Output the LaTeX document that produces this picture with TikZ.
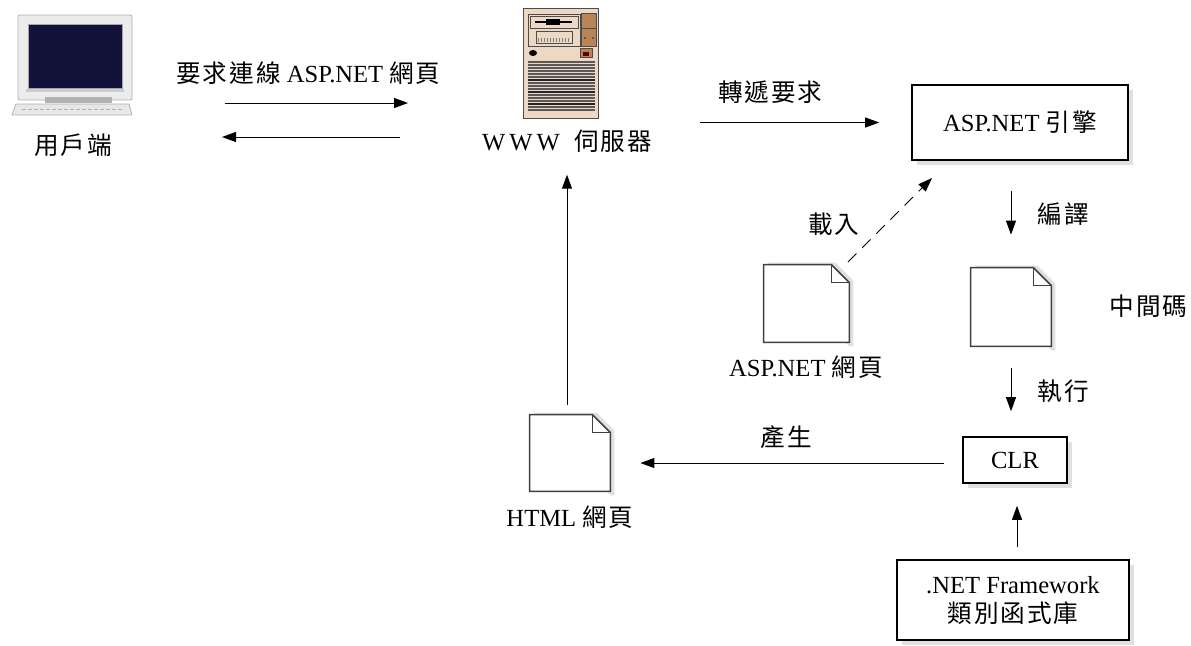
\documentclass[tikz,border=0pt]{standalone}
\usepackage{fontspec}
\setmainfont{Liberation Serif}
\newfontfamily\cjk[LetterSpace=8]{Noto Sans CJK TC}
\usetikzlibrary{arrows.meta,positioning,shadows}

\definecolor{screenblue}{RGB}{18,18,58}
\definecolor{casetan}{RGB}{236,216,196}
\definecolor{casebrown}{RGB}{184,132,88}

\begin{document}
\begin{tikzpicture}[
  x=0.5pt, y=-0.5pt,
  font=\fontsize{12.3}{14.5}\selectfont,
  box/.style={rectangle, draw=black, line width=0.8pt, fill=white, align=center,
              drop shadow={shadow xshift=2.5pt, shadow yshift=-2.5pt, fill=black!12, opacity=1}},
  doc/.style={rectangle, inner sep=0pt},
  icon/.style={rectangle, inner sep=0pt},
  lbl/.style={inner sep=1pt, align=center},
  arr/.style={-{Triangle[length=7pt,width=5pt]}, line width=0.5pt}
]
\useasboundingbox (0,0) rectangle (1191,645);

% client computer
\node[icon, minimum width=62pt, minimum height=52pt] (client) at (72,65) {};
\draw[gray!60, fill=gray!15, rounded corners=1pt] (18,15) rectangle (132,100);
\draw[gray!70, fill=screenblue] (28,24) rectangle (122,88);
\fill[gray!40] (26,89) rectangle (124,92);
\fill[gray!60] (45,97) rectangle (112,103);
\draw[gray!60, fill=gray!18] (16,104) -- (129,104) -- (132,115) -- (12,115) -- cycle;
\draw[gray!60, dash pattern=on 2pt off 1pt] (22,109) -- (124,109);
\node[lbl] (clientlbl) at (73,145) {\cjk 用戶端};

% web server
\node[icon, minimum width=37.5pt, minimum height=55pt] (srv) at (560.5,63) {};
\draw[black!70, fill=casetan] (523,8) rectangle (598,118);
\draw[black!70] (528,14) rectangle (580,46);
\draw[black!70] (530,16) rectangle (578,28);
\draw[black, line width=1pt] (535,22) -- (572,22);
\fill[black] (546,19) rectangle (560,25);
\draw[black!70] (536,31) rectangle (572,43);
\foreach \k in {538,541,...,570} \draw[black!50] (\k,38) -- (\k,42);
\draw[black!70, fill=casebrown] (581,13) rectangle (596,28);
\draw[black!70, fill=casebrown] (581,28) rectangle (596,46);
\fill[black!70] (585,38) circle (1.2) (593,38) circle (1.2);
\draw[black!70, fill=casebrown] (580,48) rectangle (592,57);
\fill[black!60!red] (583,52) rectangle (589,56);
\fill[black] (533,53) ellipse (4 and 3);
\foreach \k in {62,65,...,112} \draw[black!65, line width=0.7pt] (528,\k) -- (595,\k);
\foreach \k in {80,92,104} \draw[black!85, line width=0.9pt] (528,\k) -- (595,\k);
\node[lbl] (srvlbl) at (567,141) {W\,W\,W\,\, {\cjk 伺服器}};

% boxes
\node[box, minimum width=108pt, minimum height=37.5pt] (engine) at (1020,122.5) {ASP.NET {\cjk 引擎}};
\node[box, minimum width=52pt, minimum height=23pt] (clr) at (1015,460) {CLR};
\node[box, minimum width=116pt, minimum height=40pt, inner sep=1pt] (fw) at (1013,600)
  {.NET Framework\\{\cjk 類別函式庫}};

% documents
\node[doc, minimum width=42.5pt, minimum height=38.5pt] (aspx) at (806.5,303.5) {};
\node[doc, minimum width=40pt, minimum height=39pt] (il) at (1011,307) {};
\node[doc, minimum width=40pt, minimum height=38pt] (html) at (570,453) {};
\foreach \d in {aspx,il,html}{
  \fill[black!12] ([xshift=2pt,yshift=1pt]\d.north west) -- ([xshift=-7pt,yshift=1pt]\d.north east)
    -- ([xshift=2pt,yshift=-8pt]\d.north east) -- ([xshift=2pt,yshift=-2pt]\d.south east)
    -- ([yshift=-2pt]\d.south east) -- cycle;
  \draw[black!75, line width=0.8pt, fill=white] (\d.north west) -- ([xshift=-9pt]\d.north east)
    -- ([yshift=-9pt]\d.north east) -- (\d.south east) -- (\d.south west) -- cycle;
  \draw[black!75, line width=0.8pt] ([xshift=-9pt]\d.north east) -- ([xshift=-9pt,yshift=-9pt]\d.north east)
    -- ([yshift=-9pt]\d.north east);
}
\node[lbl] (aspxlbl) at (806,367) {ASP.NET {\cjk 網頁}};
\node[lbl, anchor=east, inner sep=0pt] (illbl) at (1188,306) {\cjk 中間碼};
\node[lbl] (htmllbl) at (570,517) {HTML {\cjk 網頁}};

% connectors
\coordinate (reqa) at (225,103);
\coordinate (reqb) at (408,103);
\coordinate (resa) at (400,137);
\coordinate (resb) at (222,137);
\coordinate (loada) at (848,262);
\coordinate (loadb) at (932,178);
\draw[arr] (reqa) -- (reqb) node[midway, above=8pt, xshift=-4pt, lbl] {{\cjk 要求連線} ASP.NET {\cjk 網頁}};
\draw[arr] (resa) -- (resb);
\draw[arr, shorten <=51pt, shorten >=16pt] (srv.east |- engine.west) -- (engine.west)
  node[pos=0.55, above=8pt, lbl] {\cjk 轉遞要求};
\draw[arr, dashed, dash pattern=on 6pt off 4pt] (loada) -- (loadb)
  node[pos=0.45, left=12pt, lbl] {\cjk 載入};
\draw[arr, shorten <=15pt, shorten >=16.5pt] (il.north |- engine.south) -- (il.north)
  node[midway, right=12pt, lbl] {\cjk 編譯};
\draw[arr, shorten <=11pt, shorten >=12.5pt] (il.south) -- (il.south |- clr.north)
  node[midway, right=12pt, lbl] {\cjk 執行};
\draw[arr, shorten <=9pt, shorten >=15pt] ([yshift=-1.5pt]clr.west) -- ([yshift=-1.5pt]clr.west -| html.east)
  node[pos=0.5, above=6pt, lbl] {\cjk 產生};
\draw[arr, shorten <=5pt, shorten >=10pt] ([xshift=-1.5pt]html.north) -- ([xshift=-1.5pt]html.north |- srvlbl.south);
\draw[arr, shorten <=6pt, shorten >=11pt] ([xshift=2pt]fw.north) -- ([xshift=2pt]fw.north |- clr.south);
\end{tikzpicture}
\end{document}
